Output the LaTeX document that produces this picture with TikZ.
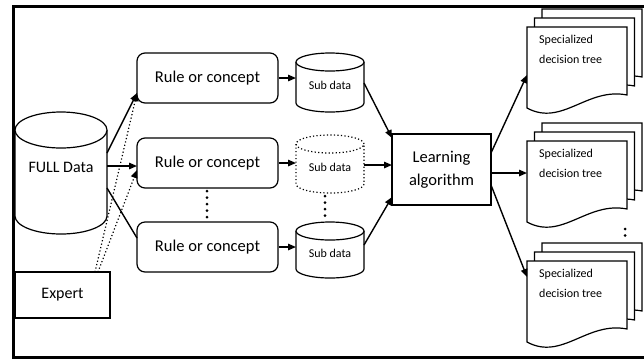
\documentclass[tikz,border=0pt]{standalone}
\usepackage{fontspec}
\setmainfont{Carlito}
\usetikzlibrary{arrows.meta}
\newcommand{\cylshape}[6]{% #1 style, #2 L, #3 R, #4 T, #5 B, #6 ry
  \draw[#1] ({#2},{#4+#6}) -- ({#2},{#5-#6})
    .. controls ({#2},{#5-#6+0.5523*#6}) and ({(#2+#3)/2-0.5523*(#3-#2)/2},{#5}) .. ({(#2+#3)/2},{#5})
    .. controls ({(#2+#3)/2+0.5523*(#3-#2)/2},{#5}) and ({#3},{#5-#6+0.5523*#6}) .. ({#3},{#5-#6})
    -- ({#3},{#4+#6});
  \draw[#1] ({(#2+#3)/2},{#4+#6}) ellipse [x radius={(#3-#2)*0.5pt}, y radius={#6*1pt}];
}
\newcommand{\docshape}[2]{% #1 left, #2 top
  \draw[shapeline,fill=white] (#1,#2) -- ({#1+100},#2) -- ({#1+100},{#2+68})
    .. controls ({#1+60},{#2+60}) and ({#1+35},{#2+100}) .. (#1,{#2+81}) -- cycle;
}
\newcommand{\docstack}[1]{%
  \docshape{542}{#1-18}
  \docshape{534.5}{#1-9}
  \docshape{527}{#1}
}
\begin{document}
\begin{tikzpicture}[x=1pt,y=-1pt,
  shapeline/.style={line width=1.2pt},
  boxstyle/.style={draw, shapeline, fill=white, inner sep=2pt},
  rulebox/.style={boxstyle, rounded corners=8pt, minimum width=141pt, minimum height=50pt, font=\fontsize{16.5}{20}\selectfont},
  learnbox/.style={boxstyle, minimum width=99pt, minimum height=71pt, align=center, font=\fontsize{16.5}{23}\selectfont},
  expertbox/.style={boxstyle, minimum width=95pt, minimum height=46pt, font=\fontsize{16}{20}\selectfont},
  bigtext/.style={font=\fontsize{16}{20}\selectfont, inner sep=0pt},
  subtext/.style={font=\fontsize{12}{14}\selectfont, inner sep=0pt},
  doctext/.style={font=\fontsize{12}{20}\selectfont, align=left, inner sep=0pt, anchor=north west},
  arr/.style={line width=1.4pt, -{Triangle[length=8pt,width=6.5pt]}},
  plainline/.style={line width=1.4pt},
  finedots/.style={line width=1.2pt, dash pattern=on 1.2pt off 2.3pt},
  dotarr/.style={finedots, -{Triangle[length=8pt,width=6.5pt]}},
  bigdots/.style={line width=3pt, line cap=round, dash pattern=on 0pt off 6.5pt},
  border/.style={line width=3pt}
]
\useasboundingbox (0,0) rectangle (644,360);

% documents (behind border)
\docstack{27}
\docstack{141}
\docstack{261}
\node[doctext] (d1) at (539,35) {Specialized\\decision tree};
\node[doctext] (d2) at (539,149) {Specialized\\decision tree};
\node[doctext] (d3) at (539,269) {Specialized\\decision tree};

% outer frame
\draw[border] (644,6.5) -- (13.5,6.5) -- (13.5,357) -- (644,357);

% full data cylinder
\cylshape{shapeline,fill=white}{15}{107}{112}{234}{18}
\node[bigtext] (full) at (61,167) {FULL Data};

% expert
\node[expertbox] (expert) at (62.5,295) {Expert};

% rule boxes
\node[rulebox] (r1) at (207.5,78) {Rule or concept};
\node[rulebox] (r2) at (207.5,163) {Rule or concept};
\node[rulebox] (r3) at (207.5,247) {Rule or concept};

% sub data cylinders
\cylshape{shapeline,fill=white}{296}{364}{53}{112}{9}
\cylshape{finedots}{296}{364}{135}{193}{9}
\cylshape{shapeline,fill=white}{296}{364}{222}{278}{9}
\node[subtext] (s1) at (330,85) {Sub data};
\node[subtext] (s2) at (330,167) {Sub data};
\node[subtext] (s3) at (330,253) {Sub data};

% learning
\node[learnbox] (learn) at (441.5,169.5) {Learning\\algorithm};

% connection coordinates
\coordinate (fa) at (107,153);
\coordinate (fb) at (107,166);
\coordinate (fc) at (107,188);
\coordinate (t1) at (137,93);
\coordinate (t2) at (137,166);
\coordinate (t2b) at (137,170);
\coordinate (t3) at (137,238);
\coordinate (ea) at (95,272);
\coordinate (eb) at (98,272);
\coordinate (s1l) at (296,78);
\coordinate (s2l) at (296,163);
\coordinate (s3l) at (296,247);
\coordinate (s1r) at (364,83);
\coordinate (s2r) at (364,165);
\coordinate (s3r) at (364,245);
\coordinate (la) at (392,138);
\coordinate (lb) at (392,165);
\coordinate (lc) at (392,197);
\coordinate (lo1) at (491,153);
\coordinate (lo2) at (491,173);
\coordinate (lo3) at (491,185);
\coordinate (da) at (527,75);
\coordinate (db) at (527,173);
\coordinate (dc) at (527,277);

% full data -> rules
\draw[arr] (fa) -- (t1);
\draw[arr] (fb) -- (t2);
\draw[plainline] (fc) -- (t3);
% expert -> rules
\draw[dotarr] (ea) -- (t1);
\draw[dotarr] (eb) -- (t2b);

% rules -> sub data
\draw[arr] (r1.east) -- (s1l);
\draw[arr] (r2.east) -- (s2l);
\draw[arr] (r3.east) -- (s3l);

% sub data -> learning
\draw[arr] (s1r) -- (la);
\draw[arr] (s2r) -- (lb);
\draw[arr] (s3r) -- (lc);

% learning -> trees
\draw[arr] (lo1) -- (da);
\draw[arr] (lo2) -- (db);
\draw[arr] (lo3) -- (dc);

% ellipsis dots
\coordinate (v1a) at (207,191);
\coordinate (v1b) at (207,220);
\coordinate (v2a) at (325,196);
\coordinate (v2b) at (325,220);
\coordinate (v3a) at (625,229);
\coordinate (v3b) at (625,242);
\draw[bigdots] (v1a) -- (v1b);
\draw[bigdots] (v2a) -- (v2b);
\draw[bigdots] (v3a) -- (v3b);
\end{tikzpicture}
\end{document}
